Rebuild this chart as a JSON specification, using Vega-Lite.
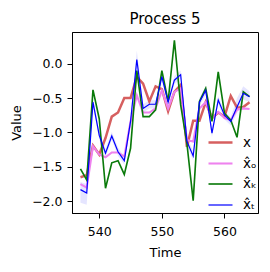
{
  "$schema": "https://vega.github.io/schema/vega-lite/v6.json",
  "autosize": "none",
  "width": 186,
  "height": 181,
  "padding": {"left": 72, "top": 32, "right": 12, "bottom": 59},
  "background": "white",
  "config": {
    "font": "DejaVu Sans",
    "view": {"stroke": "black", "strokeWidth": 1},
    "axis": {"grid": false, "domainColor": "black", "tickColor": "black", "labelColor": "black", "titleColor": "black", "labelFontSize": 12.5, "titleFontSize": 13, "titleFontWeight": "normal", "tickSize": 5, "labelFont": "DejaVu Sans", "titleFont": "DejaVu Sans"},
    "title": {"fontSize": 15, "fontWeight": "normal", "font": "DejaVu Sans", "color": "black", "offset": 5}
  },
  "title": "Process 5",
  "datasets": {
    "band": [
      {"t": 537, "lo": -2.02, "hi": -1.72}, {"t": 538, "lo": -2.05, "hi": -1.75}, {"t": 539, "lo": -0.63, "hi": -0.49},
      {"t": 540, "lo": -1.1, "hi": -0.98}, {"t": 541, "lo": -1.36, "hi": -1.24}, {"t": 542, "lo": -1.11, "hi": -0.99},
      {"t": 543, "lo": -1.34, "hi": -1.22}, {"t": 544, "lo": -1.47, "hi": -1.35}, {"t": 545, "lo": -0.9, "hi": -0.78},
      {"t": 546, "lo": -0.06, "hi": 0.19}, {"t": 547, "lo": -0.71, "hi": -0.59}, {"t": 548, "lo": -0.65, "hi": -0.53},
      {"t": 549, "lo": -0.65, "hi": -0.53}, {"t": 550, "lo": -0.25, "hi": -0.13}, {"t": 551, "lo": -0.62, "hi": -0.5},
      {"t": 552, "lo": -0.3, "hi": -0.18}, {"t": 553, "lo": -0.22, "hi": -0.1}, {"t": 554, "lo": -1.19, "hi": -1.07},
      {"t": 555, "lo": -1.41, "hi": -1.27}, {"t": 556, "lo": -0.62, "hi": -0.5}, {"t": 557, "lo": -0.45, "hi": -0.33},
      {"t": 558, "lo": -1.07, "hi": -0.95}, {"t": 559, "lo": -0.59, "hi": -0.47}, {"t": 560, "lo": -0.81, "hi": -0.69},
      {"t": 561, "lo": -0.9, "hi": -0.78}, {"t": 562, "lo": -0.72, "hi": -0.5}, {"t": 563, "lo": -0.52, "hi": -0.33},
      {"t": 564, "lo": -0.56, "hi": -0.4}
    ],
    "lines": [
      {"s": "x", "t": 537, "v": -1.65}, {"s": "x", "t": 538, "v": -1.62}, {"s": "x", "t": 539, "v": -1.19}, {"s": "x", "t": 540, "v": -1.32},
      {"s": "x", "t": 541, "v": -1.08}, {"s": "x", "t": 542, "v": -0.77}, {"s": "x", "t": 543, "v": -0.71}, {"s": "x", "t": 544, "v": -0.5},
      {"s": "x", "t": 545, "v": -0.5}, {"s": "x", "t": 546, "v": -0.19}, {"s": "x", "t": 547, "v": -0.29}, {"s": "x", "t": 548, "v": -0.55},
      {"s": "x", "t": 549, "v": -0.33}, {"s": "x", "t": 550, "v": -0.37}, {"s": "x", "t": 551, "v": -0.69}, {"s": "x", "t": 552, "v": -0.41},
      {"s": "x", "t": 553, "v": -0.31}, {"s": "x", "t": 554, "v": -1.21}, {"s": "x", "t": 555, "v": -0.83}, {"s": "x", "t": 556, "v": -0.83},
      {"s": "x", "t": 557, "v": -0.56}, {"s": "x", "t": 558, "v": -0.79}, {"s": "x", "t": 559, "v": -0.71}, {"s": "x", "t": 560, "v": -0.77},
      {"s": "x", "t": 561, "v": -0.47}, {"s": "x", "t": 562, "v": -0.64}, {"s": "x", "t": 563, "v": -0.63}, {"s": "x", "t": 564, "v": -0.56},
      {"s": "x̂ₒ", "t": 537, "v": -1.75}, {"s": "x̂ₒ", "t": 538, "v": -1.8}, {"s": "x̂ₒ", "t": 539, "v": -1.2}, {"s": "x̂ₒ", "t": 540, "v": -1.32},
      {"s": "x̂ₒ", "t": 541, "v": -1.36}, {"s": "x̂ₒ", "t": 542, "v": -1.29}, {"s": "x̂ₒ", "t": 543, "v": -1.29}, {"s": "x̂ₒ", "t": 544, "v": -1.35},
      {"s": "x̂ₒ", "t": 545, "v": -0.84}, {"s": "x̂ₒ", "t": 546, "v": -0.46}, {"s": "x̂ₒ", "t": 547, "v": -0.71}, {"s": "x̂ₒ", "t": 548, "v": -0.71},
      {"s": "x̂ₒ", "t": 549, "v": -0.65}, {"s": "x̂ₒ", "t": 550, "v": -0.39}, {"s": "x̂ₒ", "t": 551, "v": -0.65}, {"s": "x̂ₒ", "t": 552, "v": -0.41},
      {"s": "x̂ₒ", "t": 553, "v": -0.36}, {"s": "x̂ₒ", "t": 554, "v": -1.11}, {"s": "x̂ₒ", "t": 555, "v": -1.13}, {"s": "x̂ₒ", "t": 556, "v": -0.65},
      {"s": "x̂ₒ", "t": 557, "v": -0.56}, {"s": "x̂ₒ", "t": 558, "v": -0.79}, {"s": "x̂ₒ", "t": 559, "v": -0.7}, {"s": "x̂ₒ", "t": 560, "v": -0.79},
      {"s": "x̂ₒ", "t": 561, "v": -0.82}, {"s": "x̂ₒ", "t": 562, "v": -0.67}, {"s": "x̂ₒ", "t": 563, "v": -0.65}, {"s": "x̂ₒ", "t": 564, "v": -0.66},
      {"s": "x̂ₖ", "t": 537, "v": -1.53}, {"s": "x̂ₖ", "t": 538, "v": -1.69}, {"s": "x̂ₖ", "t": 539, "v": -0.38}, {"s": "x̂ₖ", "t": 540, "v": -0.8},
      {"s": "x̂ₖ", "t": 541, "v": -1.81}, {"s": "x̂ₖ", "t": 542, "v": -1.44}, {"s": "x̂ₖ", "t": 543, "v": -1.41}, {"s": "x̂ₖ", "t": 544, "v": -1.61},
      {"s": "x̂ₖ", "t": 545, "v": -1.23}, {"s": "x̂ₖ", "t": 546, "v": -0.1}, {"s": "x̂ₖ", "t": 547, "v": -0.77}, {"s": "x̂ₖ", "t": 548, "v": -0.77},
      {"s": "x̂ₖ", "t": 549, "v": -0.67}, {"s": "x̂ₖ", "t": 550, "v": -0.1}, {"s": "x̂ₖ", "t": 551, "v": -0.55}, {"s": "x̂ₖ", "t": 552, "v": 0.34},
      {"s": "x̂ₖ", "t": 553, "v": -0.6}, {"s": "x̂ₖ", "t": 554, "v": -1.16}, {"s": "x̂ₖ", "t": 555, "v": -1.99}, {"s": "x̂ₖ", "t": 556, "v": -0.55},
      {"s": "x̂ₖ", "t": 557, "v": -0.36}, {"s": "x̂ₖ", "t": 558, "v": -0.84}, {"s": "x̂ₖ", "t": 559, "v": -0.12}, {"s": "x̂ₖ", "t": 560, "v": -0.72},
      {"s": "x̂ₖ", "t": 561, "v": -0.82}, {"s": "x̂ₖ", "t": 562, "v": -1.07}, {"s": "x̂ₖ", "t": 563, "v": -0.41}, {"s": "x̂ₖ", "t": 564, "v": -0.48},
      {"s": "x̂ₜ", "t": 537, "v": -1.83}, {"s": "x̂ₜ", "t": 538, "v": -1.88}, {"s": "x̂ₜ", "t": 539, "v": -0.56}, {"s": "x̂ₜ", "t": 540, "v": -1.04},
      {"s": "x̂ₜ", "t": 541, "v": -1.3}, {"s": "x̂ₜ", "t": 542, "v": -1.05}, {"s": "x̂ₜ", "t": 543, "v": -1.28}, {"s": "x̂ₜ", "t": 544, "v": -1.41},
      {"s": "x̂ₜ", "t": 545, "v": -0.84}, {"s": "x̂ₜ", "t": 546, "v": 0.06}, {"s": "x̂ₜ", "t": 547, "v": -0.65}, {"s": "x̂ₜ", "t": 548, "v": -0.59},
      {"s": "x̂ₜ", "t": 549, "v": -0.59}, {"s": "x̂ₜ", "t": 550, "v": -0.19}, {"s": "x̂ₜ", "t": 551, "v": -0.56}, {"s": "x̂ₜ", "t": 552, "v": -0.24},
      {"s": "x̂ₜ", "t": 553, "v": -0.16}, {"s": "x̂ₜ", "t": 554, "v": -1.13}, {"s": "x̂ₜ", "t": 555, "v": -1.34}, {"s": "x̂ₜ", "t": 556, "v": -0.56},
      {"s": "x̂ₜ", "t": 557, "v": -0.39}, {"s": "x̂ₜ", "t": 558, "v": -1.01}, {"s": "x̂ₜ", "t": 559, "v": -0.53}, {"s": "x̂ₜ", "t": 560, "v": -0.75},
      {"s": "x̂ₜ", "t": 561, "v": -0.84}, {"s": "x̂ₜ", "t": 562, "v": -0.63}, {"s": "x̂ₜ", "t": 563, "v": -0.43}, {"s": "x̂ₜ", "t": 564, "v": -0.48}
    ]
  },
  "layer": [
    {
      "data": {"name": "band"},
      "mark": {"type": "area", "color": "#0000ff", "opacity": 0.1},
      "encoding": {
        "x": {"field": "t", "type": "quantitative", "scale": {"domain": [535.65, 565.35], "nice": false, "zero": false},
              "axis": {"values": [540, 550, 560], "title": "Time", "labelPadding": 7, "titlePadding": 9, "labelFlush": false}},
        "y": {"field": "lo", "type": "quantitative", "scale": {"domain": [-2.17, 0.46], "nice": false, "zero": false},
              "axis": {"values": [-2, -1.5, -1, -0.5, 0], "format": ".1f", "title": "Value", "labelPadding": 5, "titlePadding": 8, "labelFlush": false}},
        "y2": {"field": "hi"}
      }
    },
    {
      "data": {"name": "lines"},
      "mark": {"type": "line"},
      "encoding": {
        "x": {"field": "t", "type": "quantitative"},
        "y": {"field": "v", "type": "quantitative"},
        "color": {"field": "s", "type": "nominal",
          "scale": {"domain": ["x", "x̂ₒ", "x̂ₖ", "x̂ₜ"], "range": ["#d65f5f", "#ee82ee", "#0a7a0a", "#0000ff"]},
          "legend": {"title": null, "orient": "none", "legendX": 135, "legendY": 97, "symbolType": "stroke", "symbolSize": 576, "symbolStrokeWidth": 1.5, "labelFontSize": 13.5, "labelOffset": 9, "rowPadding": 1, "labelColor": "black"}},
        "strokeWidth": {"field": "s", "type": "nominal",
          "scale": {"domain": ["x", "x̂ₒ", "x̂ₖ", "x̂ₜ"], "range": [2.5, 1.2, 1.2, 1.2]},
          "legend": null},
        "order": {"field": "t"}
      }
    }
  ]
}
